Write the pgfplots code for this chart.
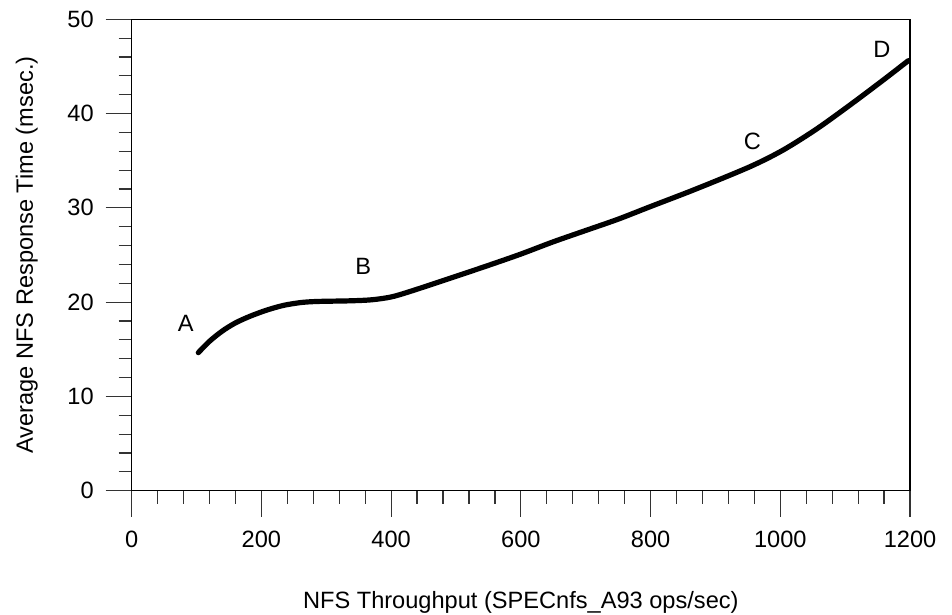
\documentclass[border=0pt]{standalone}
\usepackage{fontspec}
\setmainfont{Liberation Sans}
\usepackage{pgfplots}
\pgfplotsset{compat=1.18}
\usetikzlibrary{calc}
\begin{document}
\begin{tikzpicture}
\begin{axis}[
  scale only axis,
  width=389.15pt, height=235.7pt,
  xmin=0, xmax=1200, ymin=0, ymax=50,
  xtick={0,200,...,1200}, ytick={0,10,...,50},
  minor x tick num=4, minor y tick num=4,
  tick align=outside,
  xtick pos=left, ytick pos=left,
  major tick length=13pt, minor tick length=6.5pt,
  x axis line style={black!55, line width=0.7pt},
  y axis line style={black, line width=0.6pt},
  every tick/.style={black!80, line width=0.6pt},
  /pgf/number format/assume math mode=true,
  /pgf/number format/1000 sep={},
  tick label style={font=\fontsize{11.8}{14}\selectfont},
  xticklabel style={yshift=-3.4pt},
  yticklabel style={xshift=-2.5pt},
  label style={font=\fontsize{11.8}{14}\selectfont},
  xlabel={NFS Throughput (SPECnfs\_A93 ops/sec)},
  ylabel={Average NFS Response Time (msec.)},
  xlabel style={at={($(axis description cs:0.5,0)+(0,-58.65pt)$)}, anchor=base},
  ylabel style={at={($(axis description cs:0,0.5)+(-49.35pt,0)$)}, anchor=base},
  clip=false,
]
\addplot[black, line width=2.6pt, line cap=round, smooth, tension=0.5] coordinates {
(102.7,14.64) (120,15.85) (140,16.95) (160,17.8) (182.4,18.5) (208,19.15) (233.7,19.65)
(260,19.95) (285.2,20.07) (336.6,20.14) (370,20.25) (400,20.55) (430,21.15)
(490.8,22.53) (550,23.9) (600,25.1) (650,26.4) (700,27.6)
(750,28.8) (799.2,30.12) (870,32.0) (953.4,34.37) (1004.6,36.14) (1056.1,38.37)
(1107.5,40.91) (1158.8,43.56) (1197.3,45.61)
};
\node[font=\fontsize{11.8}{14}\selectfont] at (axis cs:83.4,17.76) {A};
\node[font=\fontsize{11.8}{14}\selectfont] at (axis cs:357,23.8) {B};
\node[font=\fontsize{11.8}{14}\selectfont] at (axis cs:957,37.1) {C};
\node[font=\fontsize{11.8}{14}\selectfont] at (axis cs:1156.8,46.8) {D};
\end{axis}
\pgfresetboundingbox
\path[use as bounding box] (current axis.south west) ++(-65.85pt,-62.15pt) rectangle ++(476pt,307.5pt);
\end{tikzpicture}
\end{document}
